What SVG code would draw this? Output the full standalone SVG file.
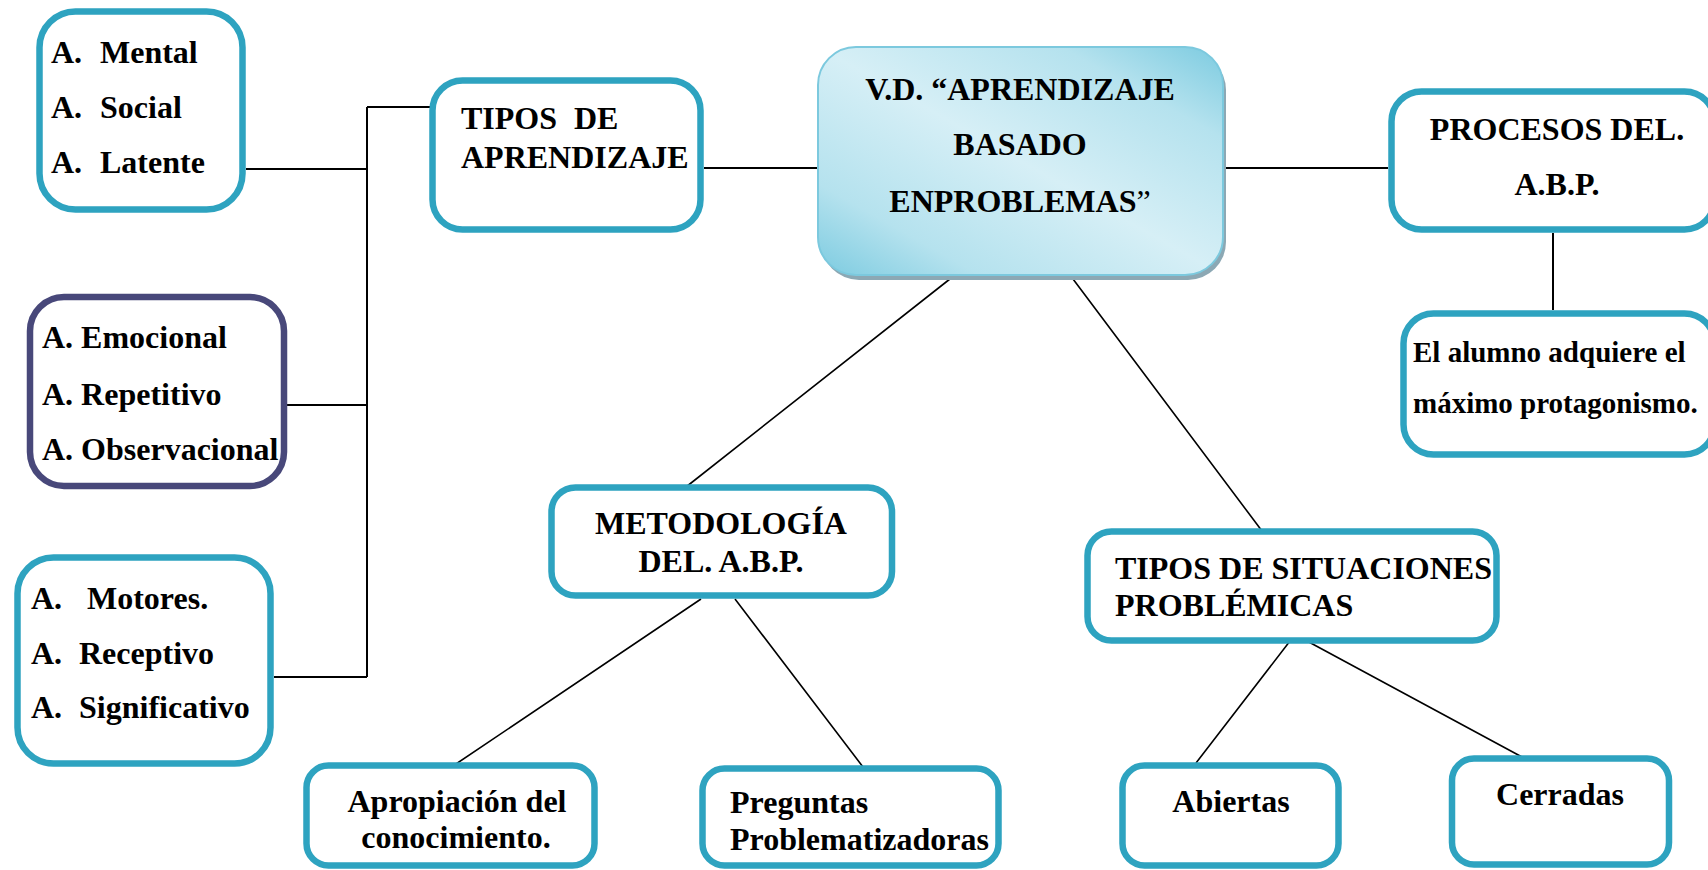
<svg xmlns="http://www.w3.org/2000/svg" width="1708" height="870" viewBox="0 0 1708 870">
<style>
.box{fill:#ffffff;stroke:#2ea3c0;stroke-width:6.5}
.navy{fill:#ffffff;stroke:#48487a;stroke-width:6.5}
.t{font-family:"Liberation Serif","Times New Roman",serif;font-weight:bold;font-size:32px;fill:#000}
.c{text-anchor:middle}
.ln{stroke:#000;stroke-width:2;fill:none}
.dl{stroke:#000;stroke-width:1.6;fill:none}
</style>
<defs>
<linearGradient id="g" x1="0" y1="1" x2="1" y2="0">
<stop offset="0" stop-color="#7ccbe0"/>
<stop offset="0.2" stop-color="#b5e2ee"/>
<stop offset="0.5" stop-color="#d6eff6"/>
<stop offset="0.8" stop-color="#b5e2ee"/>
<stop offset="1" stop-color="#7ccbe0"/>
</linearGradient>
</defs>
<rect width="1708" height="870" fill="#ffffff"/>
<g id="connectors">
<path class="ln" d="M246 169 H367 M367 107 H432 M367 107 V677 M287 405 H367 M274 677 H367 M704 168 H818 M1224 168 H1388 M1553 233 V310"/>
<path class="dl" d="M955 275 L686 487 M1070 275 L1262 531 M701 599 L456 764 M735 599 L863 767 M1290 641 L1196 763 M1307 641 L1522 757"/>
</g>
<g id="mental">
<rect class="box" x="39.5" y="11.5" width="203" height="198" rx="36"/>
<text class="t" x="51" y="63">A.<tspan x="100">Mental</tspan></text>
<text class="t" x="51" y="118">A.<tspan x="100">Social</tspan></text>
<text class="t" x="51" y="173">A.<tspan x="100">Latente</tspan></text>
</g>
<g id="emocional">
<rect class="navy" x="30" y="297" width="254" height="189" rx="34"/>
<text class="t" x="42" y="348">A. Emocional</text>
<text class="t" x="42" y="405">A. Repetitivo</text>
<text class="t" x="42" y="460">A. Observacional</text>
</g>
<g id="motores">
<rect class="box" x="17.5" y="557.5" width="253" height="206" rx="36"/>
<text class="t" x="31" y="609">A.<tspan x="87">Motores.</tspan></text>
<text class="t" x="31" y="664">A.<tspan x="79">Receptivo</tspan></text>
<text class="t" x="31" y="718">A.<tspan x="79">Significativo</tspan></text>
</g>
<g id="tipos">
<rect class="box" x="432.5" y="80.5" width="268" height="149" rx="30"/>
<text class="t" x="461" y="129">TIPOS<tspan x="574">DE</tspan></text>
<text class="t" x="461" y="168">APRENDIZAJE</text>
</g>
<g id="central">
<rect x="821" y="52" width="405" height="228" rx="38" fill="#8ca8b4"/>
<rect x="818" y="47" width="405" height="228" rx="38" fill="url(#g)" stroke="#7cc9de" stroke-width="2"/>
<text class="t c" x="1020" y="100">V.D. “APRENDIZAJE</text>
<text class="t c" x="1020" y="155">BASADO</text>
<text class="t c" x="1020" y="212">ENPROBLEMAS<tspan font-weight="normal">”</tspan></text>
</g>
<g id="procesos">
<rect class="box" x="1391.5" y="91.5" width="323" height="138" rx="30"/>
<text class="t c" x="1557" y="140">PROCESOS DEL.</text>
<text class="t c" x="1557" y="195">A.B.P.</text>
</g>
<g id="alumno">
<rect class="box" x="1403.5" y="313.5" width="311" height="141" rx="30"/>
<text class="t" x="1413" y="362" style="font-size:29px">El alumno adquiere el</text>
<text class="t" x="1413" y="413" style="font-size:29px">máximo protagonismo.</text>
</g>
<g id="metodologia">
<rect class="box" x="551.5" y="487.5" width="340.5" height="108" rx="24"/>
<text class="t c" x="721" y="534">METODOLOGÍA</text>
<text class="t c" x="721" y="572">DEL. A.B.P.</text>
</g>
<g id="situaciones">
<rect class="box" x="1087.5" y="531.5" width="409" height="109" rx="24"/>
<text class="t" x="1115" y="579">TIPOS DE SITUACIONES</text>
<text class="t" x="1115" y="616">PROBLÉMICAS</text>
</g>
<g id="apropiacion">
<rect class="box" x="306.5" y="765.5" width="288" height="100" rx="22"/>
<text class="t c" x="457" y="812">Apropiación del</text>
<text class="t c" x="456" y="848">conocimiento.</text>
</g>
<g id="preguntas">
<rect class="box" x="702.5" y="768.5" width="296" height="97" rx="22"/>
<text class="t" x="730" y="813">Preguntas</text>
<text class="t" x="730" y="850">Problematizadoras</text>
</g>
<g id="abiertas">
<rect class="box" x="1122.5" y="765.5" width="216" height="100" rx="22"/>
<text class="t c" x="1231" y="812">Abiertas</text>
</g>
<g id="cerradas">
<rect class="box" x="1452" y="758.5" width="217" height="106" rx="22"/>
<text class="t c" x="1560" y="805">Cerradas</text>
</g>
</svg>
